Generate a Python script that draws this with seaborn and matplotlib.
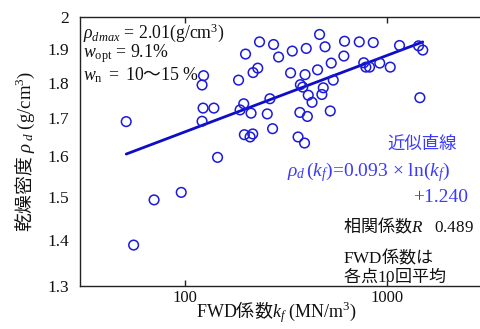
import numpy as np
import pandas as pd
import matplotlib
matplotlib.use("Agg")
import matplotlib.pyplot as plt
import seaborn as sns
from matplotlib.ticker import FixedLocator, FixedFormatter, NullLocator

# ---- data ----
kf = [50.9, 55.4, 70.0, 95.5, 123.3, 121.2, 122.6, 138.7, 121.2, 144.7,
      184.0, 187.2, 199.3, 233.9, 274.6, 290.8, 340.1, 399.1, 464.7, 494.9,
      618.5, 731.8, 858.9, 1160, 1442, 1513, 613.6, 531.2, 454.1, 393.6,
      333.6, 229.2, 217.2, 770.3, 789.1, 823.2, 925.0, 1043, 543.5, 373.1,
      383.5, 484.8, 477.1, 408.3, 426.5, 263.3, 195.2, 212.3, 255.5, 371.0,
      404.2, 525.2, 1464, 271.5, 196.6, 216.4, 209.9, 363.4, 391.4]
rho_d = [1.691, 1.388, 1.492, 1.510, 1.820, 1.793, 1.728, 1.728, 1.692, 1.597,
         1.807, 1.723, 1.884, 1.921, 1.913, 1.875, 1.893, 1.901, 1.944, 1.906,
         1.923, 1.921, 1.919, 1.910, 1.909, 1.896, 1.878, 1.857, 1.837, 1.823,
         1.828, 1.842, 1.829, 1.858, 1.845, 1.845, 1.857, 1.845, 1.807, 1.794,
         1.787, 1.785, 1.766, 1.764, 1.744, 1.754, 1.740, 1.714, 1.712, 1.716,
         1.705, 1.720, 1.757, 1.672, 1.656, 1.658, 1.650, 1.650, 1.634]
fit_a = 0.093
fit_b = 1.240
x_ticks = [100, 1000]
x_tick_labels = ["100", "1000"]
y_ticks = [1.3, 1.4, 1.5, 1.6, 1.7, 1.8, 1.9, 2.0]
y_tick_labels = ["1.3", "1.4", "1.5", "1.6", "1.7", "1.8", "1.9", "2"]

df = pd.DataFrame({"kf": kf, "rho": rho_d})
kfit = np.array([min(kf), max(kf)])
fit_df = pd.DataFrame({"kf": kfit, "rho": fit_a * np.log(kfit) + fit_b})

# ---- style ----
sns.set_theme(style="white")
plt.rcParams["font.family"] = ["Liberation Serif", "Noto Sans CJK JP"]
plt.rcParams["mathtext.fontset"] = "custom"
plt.rcParams["mathtext.rm"] = "Liberation Serif"
plt.rcParams["mathtext.it"] = "Liberation Serif:italic"
plt.rcParams["mathtext.bf"] = "Liberation Serif:bold"
plt.rcParams["axes.unicode_minus"] = False

W, H = 481, 329
fig = plt.figure(figsize=(W / 100, H / 100), dpi=100)
ax = fig.add_axes([80 / W, 1 - 286 / H, 402.6 / W, 269.3 / H])

PT_BLUE = "#1a1adc"
LINE_BLUE = "#0d0dc8"
TXT_BLUE = "#3a3aff"

sns.lineplot(data=fit_df, x="kf", y="rho", ax=ax, color=LINE_BLUE,
             linewidth=2.0, zorder=2)
sns.scatterplot(data=df, x="kf", y="rho", ax=ax, marker="o", s=48,
                facecolor="none", edgecolor=PT_BLUE, linewidth=1.1, zorder=3)

ax.set_xscale("log")
ax.set_yscale("log")
ax.set_xlim(30, 3000)
ax.set_ylim(1.3, 2.0)

ax.xaxis.set_major_locator(FixedLocator(x_ticks))
ax.xaxis.set_major_formatter(FixedFormatter(x_tick_labels))
ax.xaxis.set_minor_locator(NullLocator())
ax.yaxis.set_major_locator(FixedLocator(y_ticks))
ax.yaxis.set_major_formatter(FixedFormatter(y_tick_labels))
ax.yaxis.set_minor_locator(NullLocator())

for s in ["left", "bottom", "top"]:
    ax.spines[s].set_visible(True)
    ax.spines[s].set_color("#222222")
    ax.spines[s].set_linewidth(1.0)
ax.spines["right"].set_visible(False)

ax.tick_params(axis="x", which="major", direction="in", length=4, width=1,
               top=True, bottom=True, labelsize=12, pad=3, colors="#222222",
               labelcolor="#111111")
ax.tick_params(axis="y", which="major", length=0, labelsize=12.5, pad=8,
               labelcolor="#111111")

ax.set_xlabel(r"$\mathrm{FWD}$係数$k_f\ \mathrm{(MN/m^3)}$",
              fontsize=13, family=["Noto Sans CJK JP", "Liberation Serif"],
              color="#111111", va="center")
ax.xaxis.set_label_coords((276 - 80) / 402.6, -(312 - 286) / 269.3)
ax.set_ylabel(r"乾燥密度 $\rho_{\ d}\ \mathrm{(g/cm^3)}$",
              fontsize=13.5, family=["Noto Sans CJK JP", "Liberation Serif"],
              color="#111111", va="center")
ax.yaxis.set_label_coords((25 - 80) / 402.6, 0.5)

def ft(px, py, s, **kw):
    fig.text(px / W, 1 - py / H, s, **kw)

cjk = ["Noto Sans CJK JP", "Liberation Serif"]

ft(83, 33, r"$\rho_{dmax}$ = 2.01(g/cm$^3$)", fontsize=12.8, va="center",
   color="#111111")
ft(83, 54, r"$w_{\mathrm{opt}}$ = 9.1%", fontsize=12.8, va="center",
   color="#111111")
ft(83, 75, r"$w_{\mathrm{n}}\ \mathrm{=\ 10}$〜$\mathrm{15\ \%}$", fontsize=12.8,
   va="center", color="#111111", family=cjk)

ft(421.7, 144, "近似直線", fontsize=12.5, ha="center", va="center",
   color=TXT_BLUE, family=cjk)
ft(287, 172, r"$\rho_d\,(k_f)$=0.093 $\times$ ln($k_f$)",
   fontsize=14, ha="left", va="center", color=TXT_BLUE)
ft(468, 198, "+1.240", fontsize=14, ha="right", va="center", color=TXT_BLUE)

ft(343, 226, r"相関係数$R\ \ \ \mathrm{0.489}$", fontsize=12.3, ha="left",
   va="center", color="#111111", family=cjk)
ft(343, 257, r"$\mathrm{FWD}$係数は", fontsize=12.3, ha="left", va="center",
   color="#111111", family=cjk)
ft(343, 276, r"各点$\mathrm{10}$回平均", fontsize=12.3, ha="left",
   va="center", color="#111111", family=cjk)

fig.savefig("out.png", dpi=100, facecolor="white")
